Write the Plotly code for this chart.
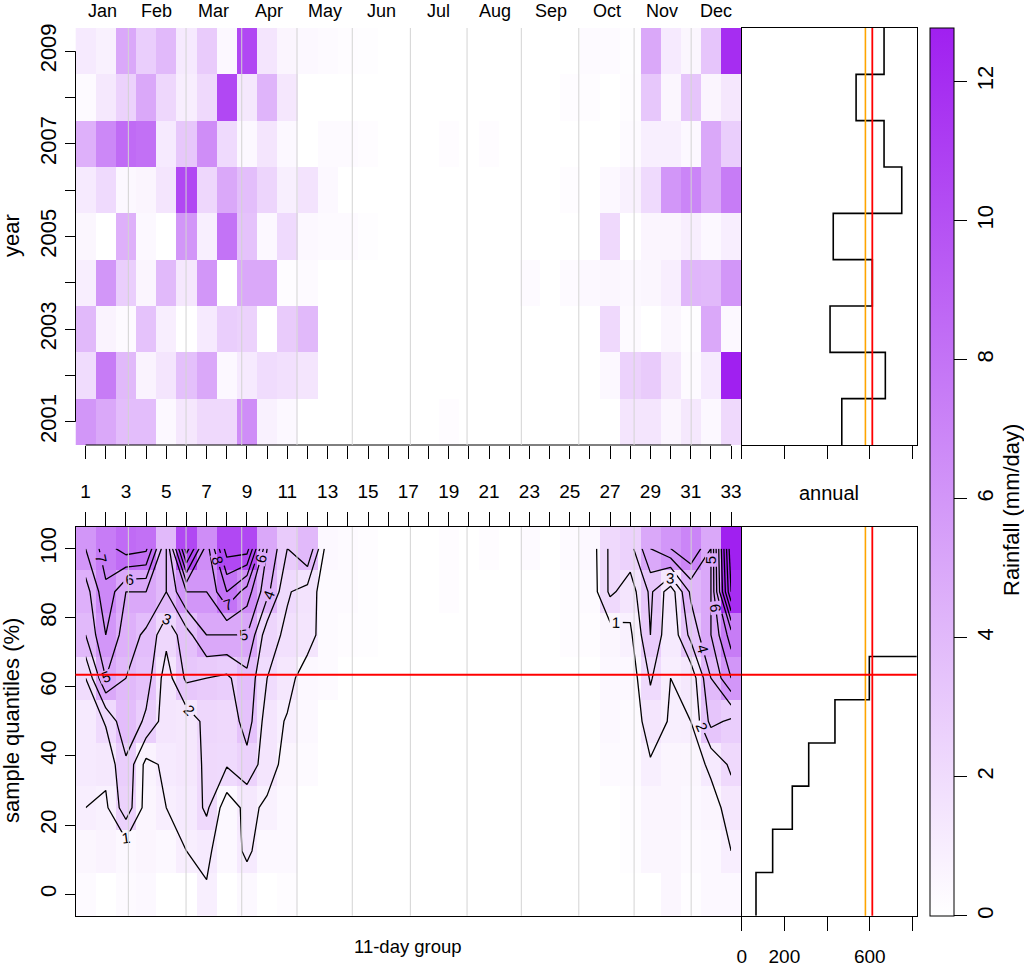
import plotly.graph_objects as go
import numpy as np

W, H = 1024, 971

# ---------------- data ----------------
groups = list(range(1, 34))                       # 11-day groups
years = list(range(2001, 2010))
quantile_levels = [0, 12.5, 25, 37.5, 50, 62.5, 75, 87.5, 100]
month_names = ["Jan", "Feb", "Mar", "Apr", "May", "Jun",
               "Jul", "Aug", "Sep", "Oct", "Nov", "Dec"]
month_label_pos = [1.85, 4.53, 7.32, 10.1, 12.87, 15.65, 18.47, 21.3, 24.08, 26.84, 29.56, 32.24]
month_bounds = [3.12, 5.98, 8.74, 11.48, 14.22, 17.1, 19.91, 22.6, 25.45, 28.19, 31.02]

# mean daily rainfall (mm/day) per 11-day group, one list per year
rain_2001 = [6.0, 5.0, 3.8, 3.8, 0.4, 1.4, 2.2, 2.2, 6.5, 0.8, 0.4, 0, 0, 0, 0, 0, 0, 0, 0.2, 0,
             0, 0, 0, 0, 0, 0, 0, 1.5, 1.5, 0.6, 1.3, 0.4, 2.2]
rain_2002 = [2.0, 7.5, 4.0, 0.7, 1.5, 3.6, 5.0, 0.4, 1.2, 2.0, 1.8, 1.5, 0, 0, 0, 0, 0, 0, 0, 0,
             0, 0, 0, 0, 0, 0, 0.4, 2.6, 3.0, 1.4, 0.3, 1.2, 12.77]
rain_2003 = [4.0, 0.7, 0.3, 3.5, 1.0, 0, 1.2, 2.8, 2.6, 0, 3.0, 4.0, 0, 0, 0, 0, 0, 0, 0, 0,
             0, 0, 0, 0, 0, 0, 2.2, 0.3, 0, 0.5, 0.1, 5.0, 0.4]
rain_2004 = [1.0, 6.0, 2.8, 0.6, 4.0, 1.4, 6.0, 0, 5.0, 5.0, 0.2, 0.3, 0, 0, 0, 0, 0, 0, 0, 0,
             0, 0, 0.3, 0, 0.3, 0.4, 0.5, 0.4, 0.5, 1.0, 4.2, 4.0, 6.0]
rain_2005 = [0.5, 0, 4.5, 0.4, 0, 6.0, 0.9, 8.0, 3.5, 0.4, 2.1, 0.4, 0.3, 0.3, 0.1, 0, 0, 0, 0, 0,
             0, 0, 0, 0, 0, 0, 2.2, 0, 0.6, 0.6, 1.0, 0.4, 1.0]
rain_2006 = [1.2, 2.1, 0.4, 0.6, 1.5, 10.5, 2.3, 5.0, 3.7, 2.4, 0.9, 1.6, 0.4, 0, 0, 0, 0, 0, 0, 0,
             0, 0, 0, 0, 0.2, 0, 0.4, 0.8, 2.1, 6.0, 7.0, 5.0, 7.5]
rain_2007 = [4.5, 6.8, 8.5, 8.2, 1.2, 3.2, 6.5, 2.1, 0.4, 1.5, 0.4, 0, 0.3, 0.3, 0.2, 0, 0, 0, 0.2, 0,
             0.2, 0, 0, 0, 0, 0, 0, 0.3, 0.9, 0.9, 0.4, 5.0, 2.8]
rain_2008 = [0.3, 1.3, 2.6, 5.0, 2.3, 1.0, 2.2, 10.5, 1.3, 4.3, 1.4, 0, 0, 0, 0, 0, 0, 0, 0, 0,
             0, 0, 0, 0, 0.2, 0.2, 0, 0.2, 3.2, 0.5, 3.3, 0.6, 1.4]
rain_2009 = [1.2, 0.8, 5.0, 2.8, 4.0, 1.2, 3.0, 0.4, 10.5, 1.5, 0.6, 0.4, 0.3, 0.2, 0.1, 0, 0, 0, 0, 0,
             0, 0, 0, 0, 0, 0.3, 0.3, 0.1, 5.0, 1.2, 0.5, 3.3, 12.0]

annual_total = [469, 673, 414, 612, 429, 750, 667, 536, 667]       # mm, 2001..2009
quantile_total = [67, 145, 237, 314, 437, 598, 870, 1100, 1500]    # mm, per quantile level
threshold_q = 63.5
annual_ticks = [0, 200, 400, 600, 800]
annual_ticktext = ["0", "200", "", "600", ""]
cbar_ticks = [0, 2, 4, 6, 8, 10, 12]

# ---------------- derived ----------------
z_top = np.array([rain_2001, rain_2002, rain_2003, rain_2004, rain_2005,
                  rain_2006, rain_2007, rain_2008, rain_2009])
z_q = np.sort(z_top, axis=0)            # sample quantiles per group
zmax = float(z_top.max())
mean_annual = float(np.mean(annual_total))
median_annual = float(np.median(annual_total))

REG = "Liberation Sans, Arial, sans-serif"
FS_ROT = 22      # rotated texts
FS_H = 19        # horizontal texts
cs = [[0, "#FFFFFF"], [1, "#A020F0"]]


def fx(p):
    return p / W


def fy(p):
    return 1 - p / H


X_HM = [fx(75.5), fx(741.2)]
X_AN = [fx(741.7), fx(916.7)]
Y_TOP = [fy(445), fy(28)]
Y_BOT = [fy(915.7), fy(527)]

fig = go.Figure()

fig.add_trace(go.Heatmap(
    x=groups, y=years, z=z_top, zmin=0, zmax=zmax, colorscale=cs,
    xaxis="x", yaxis="y", hoverinfo="skip",
    colorbar=dict(x=fx(930), xanchor="left", xpad=0, ypad=0,
                  y=fy((28 + 915.7) / 2), yanchor="middle",
                  len=(915.7 - 28) / H, lenmode="fraction",
                  thickness=24, thicknessmode="pixels",
                  outlinewidth=1, outlinecolor="black",
                  ticks="outside", ticklen=13, tickwidth=1, tickcolor="black",
                  tickvals=cbar_ticks, tickangle=-90,
                  tickfont=dict(family=REG, size=FS_ROT, color="black"))))

fig.add_trace(go.Heatmap(
    x=groups, y=quantile_levels, z=z_q, zmin=0, zmax=zmax, colorscale=cs,
    showscale=False, xaxis="x3", yaxis="y3", hoverinfo="skip"))

fig.add_trace(go.Contour(
    x=groups, y=quantile_levels, z=z_q, xaxis="x3", yaxis="y3",
    contours=dict(start=1, end=13, size=1, coloring="none", showlabels=True,
                  labelfont=dict(family=REG, size=15, color="black")),
    line=dict(color="black", width=1.3, smoothing=0), showscale=False, hoverinfo="skip"))

# annual step lines
fig.add_trace(go.Scatter(
    x=annual_total + [annual_total[-1]], y=[y - 0.5 for y in years] + [years[-1] + 0.5],
    mode="lines", line=dict(color="black", width=1.6, shape="vh"),
    xaxis="x2", yaxis="y2", hoverinfo="skip", showlegend=False))
fig.add_trace(go.Scatter(
    x=quantile_total + [quantile_total[-1]],
    y=[q - 6.25 for q in quantile_levels] + [quantile_levels[-1] + 6.25],
    mode="lines", line=dict(color="black", width=1.6, shape="vh"),
    xaxis="x4", yaxis="y4", hoverinfo="skip", showlegend=False))

odd_text = [str(g) if g % 2 == 1 else "" for g in groups]
year_text = [str(y) if y % 2 == 1 else "" for y in years]

base_ax = dict(showgrid=False, zeroline=False, ticks="outside", tickwidth=1,
               tickcolor="black", linecolor="black", linewidth=1, automargin=False)

fig.update_layout(
    width=W, height=H, margin=dict(l=0, r=0, t=0, b=0, autoexpand=False),
    paper_bgcolor="white", plot_bgcolor="rgba(0,0,0,0)", showlegend=False,
    xaxis=dict(base_ax, domain=X_HM, anchor="y", range=[0.5, 33.5],
               tickvals=groups, showticklabels=False, ticklen=13, showline=False),
    yaxis=dict(base_ax, domain=Y_TOP, anchor="x", range=[2000.5, 2009.5],
               tickvals=years, ticktext=year_text, ticklen=10, tickangle=-90,
               showline=False, ticklabelstandoff=0,
               tickfont=dict(family=REG, size=FS_ROT, color="black")),
    xaxis2=dict(base_ax, domain=X_AN, anchor="y2", range=[0, 820],
                tickvals=annual_ticks, showticklabels=False, ticklen=13,
                showline=True, mirror=True),
    yaxis2=dict(base_ax, domain=Y_TOP, anchor="x2", range=[2000.5, 2009.5],
                ticks="", showticklabels=False, showline=True, mirror=True),
    xaxis3=dict(base_ax, domain=X_HM, anchor="y3", side="top", range=[0.5, 33.5],
                tickvals=groups, ticktext=odd_text, ticklen=14, showline=True, mirror=True,
                ticklabelstandoff=6,
                tickfont=dict(family=REG, size=FS_H, color="black")),
    yaxis3=dict(base_ax, domain=Y_BOT, anchor="x3", range=[-6.25, 106.25],
                tickvals=[0, 20, 40, 60, 80, 100], ticklen=10, tickangle=-90,
                showline=True, mirror=True, ticklabelstandoff=0,
                tickfont=dict(family=REG, size=FS_ROT, color="black")),
    xaxis4=dict(base_ax, domain=X_AN, anchor="y4", range=[0, 820],
                tickvals=annual_ticks, ticktext=annual_ticktext, ticklen=14,
                showline=True, mirror=True, ticklabelstandoff=9,
                tickfont=dict(family=REG, size=FS_H, color="black")),
    xaxis5=dict(base_ax, domain=X_AN, anchor="y4", overlaying="x4", side="top",
                range=[0, 820], tickvals=annual_ticks, showticklabels=False,
                ticklen=14, showline=False),
    yaxis4=dict(base_ax, domain=Y_BOT, anchor="x4", range=[-6.25, 106.25],
                ticks="", showticklabels=False, showline=True, mirror=True),
)

shapes = []
# partial axis lines of the top heatmap (R style)
shapes.append(dict(type="line", xref="x domain", yref="y", x0=0, x1=0,
                   y0=years[0], y1=years[-1], line=dict(color="black", width=1)))
shapes.append(dict(type="line", xref="x", yref="y domain", x0=groups[0], x1=groups[-1],
                   y0=0, y1=0, line=dict(color="black", width=1)))
# month boundaries
for b in month_bounds:
    for xr, yr in (("x", "y domain"), ("x3", "y3 domain")):
        shapes.append(dict(type="line", xref=xr, yref=yr, x0=b, x1=b, y0=0, y1=1,
                           line=dict(color="#D3D3D3", width=1), layer="above"))
# mean / median annual lines
for xr, yr in (("x2", "y2 domain"), ("x4", "y4 domain")):
    shapes.append(dict(type="line", xref=xr, yref=yr, x0=mean_annual, x1=mean_annual,
                       y0=0, y1=1, line=dict(color="#FFA500", width=1.6)))
    shapes.append(dict(type="line", xref=xr, yref=yr, x0=median_annual, x1=median_annual,
                       y0=0, y1=1, line=dict(color="#FF0000", width=1.8)))
# threshold quantile line
for xr, yr in (("x3 domain", "y3"), ("x4 domain", "y4")):
    shapes.append(dict(type="line", xref=xr, yref=yr, x0=0, x1=1, y0=threshold_q,
                       y1=threshold_q, line=dict(color="#FF0000", width=2)))
fig.update_layout(shapes=shapes)


def txt(x, y, text, size, angle=0, xref="paper"):
    return dict(x=x, y=y, xref=xref, yref="paper", text=text, showarrow=False,
                xanchor="center", yanchor="middle", textangle=angle,
                font=dict(family=REG, size=size, color="black"))


ann = [txt(pos, fy(11), name, 18, xref="x") for name, pos in zip(month_names, month_label_pos)]
ann.append(txt(fx(829), fy(493), "annual", 20))
ann.append(txt(fx(408), fy(946), "11-day group", 18.5))
ann.append(txt(fx(11), fy(236), "year", FS_ROT, -90))
ann.append(txt(fx(11), fy(721), "sample quantiles (%)", FS_ROT, -90))
ann.append(txt(fx(1011), fy(510), "Rainfall (mm/day)", FS_ROT, -90))
fig.update_layout(annotations=ann)

fig.write_html("out.html", config={"displayModeBar": False},
               post_script="document.body.style.margin='0';"
                           "document.body.style.padding='0';"
                           "document.body.style.overflow='hidden';")
